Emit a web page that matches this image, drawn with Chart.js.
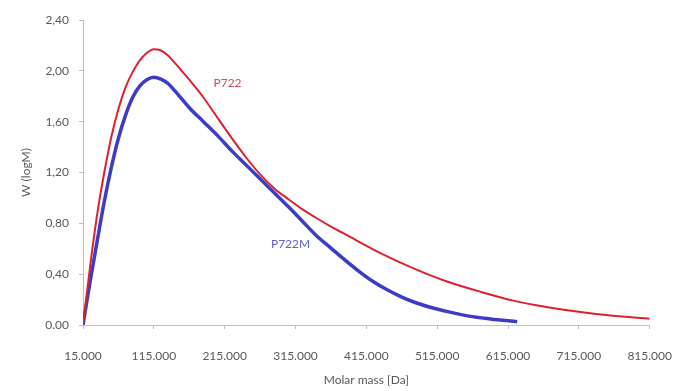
<!DOCTYPE html>
<html>
<head>
<meta charset="utf-8">
<script src="https://cdn.jsdelivr.net/npm/chart.js@4/dist/chart.umd.min.js"></script>
<style>
  html, body { margin: 0; padding: 0; background: #fff; }
  #wrap { width: 692px; height: 391px; }
</style>
</head>
<body>
<div id="wrap"><canvas id="chart"></canvas></div>
<script>
// molar mass (Da) and W (logM)
const p722Mass = [15000, 25000, 35000, 45000, 55000, 65000, 75000, 85000, 95000, 105000, 115000,
  125000, 135000, 145000, 155000, 165000, 185000, 205000, 225000, 245000, 265000, 285000, 305000,
  325000, 345000, 365000, 390000, 437000, 484000, 530000, 577000, 624000, 671000, 720000, 760000, 815000];
const p722W = [0.00, 0.46, 0.87, 1.20, 1.48, 1.70, 1.87, 1.99, 2.08, 2.14, 2.17,
  2.16, 2.12, 2.06, 1.995, 1.93, 1.79, 1.63, 1.47, 1.32, 1.185, 1.075, 0.99,
  0.91, 0.84, 0.775, 0.70, 0.56, 0.44, 0.34, 0.26, 0.19, 0.14, 0.10, 0.075, 0.05];

const p722mMass = [15000, 25000, 35000, 45000, 55000, 65000, 75000, 85000, 95000, 105000, 115000,
  125000, 135000, 145000, 155000, 165000, 185000, 205000, 225000, 245000, 265000, 285000, 305000,
  325000, 345000, 365000, 385000, 405000, 425000, 445000, 465000, 485000, 505000, 530000, 560000, 590000, 628000];
const p722mW = [0.00, 0.34, 0.66, 0.97, 1.24, 1.47, 1.65, 1.79, 1.88, 1.93, 1.95,
  1.935, 1.90, 1.84, 1.775, 1.71, 1.60, 1.49, 1.37, 1.26, 1.15, 1.04, 0.93,
  0.815, 0.70, 0.605, 0.51, 0.42, 0.34, 0.275, 0.22, 0.175, 0.14, 0.105, 0.07, 0.048, 0.026];

const xTicks = [15000, 115000, 215000, 315000, 415000, 515000, 615000, 715000, 815000];
const xTickLabels = ['15.000', '115.000', '215.000', '315.000', '415.000', '515.000', '615.000', '715.000', '815.000'];
const yTicks = [0, 0.4, 0.8, 1.2, 1.6, 2.0, 2.4];
const yTickLabels = ['0.00', '0,40', '0,80', '1,20', '1,60', '2,00', '2,40'];

// series name labels placed next to the curves
const seriesLabels = [
  { text: 'P722', x: 219000, y: 1.90, color: '#c8505a' },
  { text: 'P722M', x: 308000, y: 0.64, color: '#5a64c8' }
];

const toPoints = (xs, ys) => xs.map((x, i) => ({ x: x, y: ys[i] }));

const labelPlugin = {
  id: 'seriesLabels',
  afterDatasetsDraw(chart) {
    const ctx = chart.ctx;
    const xs = chart.scales.x, ys = chart.scales.y;
    ctx.save();
    ctx.font = '12px Lato';
    ctx.textAlign = 'center';
    ctx.textBaseline = 'middle';
    seriesLabels.forEach(l => {
      ctx.fillStyle = l.color;
      ctx.fillText(l.text, xs.getPixelForValue(l.x), ys.getPixelForValue(l.y));
    });
    ctx.restore();
  }
};

Chart.defaults.font.family = 'Lato';
Chart.defaults.color = '#595959';

new Chart(document.getElementById('chart'), {
  type: 'line',
  data: {
    datasets: [
      {
        label: 'P722',
        data: toPoints(p722Mass, p722W),
        borderColor: '#e0202e',
        borderWidth: 2,
        pointRadius: 0,
        cubicInterpolationMode: 'monotone'
      },
      {
        label: 'P722M',
        data: toPoints(p722mMass, p722mW),
        borderColor: '#3c3cc8',
        borderWidth: 3.5,
        pointRadius: 0,
        cubicInterpolationMode: 'monotone'
      }
    ]
  },
  options: {
    responsive: true,
    maintainAspectRatio: false,
    animation: false,
    layout: { padding: { left: 0, right: 39, top: 20, bottom: 0 } },
    plugins: {
      legend: { display: false },
      tooltip: { enabled: false }
    },
    scales: {
      x: {
        type: 'linear',
        min: 15000,
        max: 815000,
        afterBuildTicks: (scale) => { scale.ticks = xTicks.map(v => ({ value: v })); },
        afterFit: (scale) => { scale.height = 66; },
        ticks: {
          maxRotation: 0,
          autoSkip: false,
          padding: 20,
          font: { size: 12 },
          callback: (v, i) => xTickLabels[i]
        },
        grid: { drawOnChartArea: false, tickLength: 4, color: '#bfbfbf' },
        border: { color: '#bfbfbf' },
        title: { display: true, text: 'Molar mass [Da]', font: { size: 12 }, padding: { top: 6 } }
      },
      y: {
        min: 0,
        max: 2.4,
        afterBuildTicks: (scale) => { scale.ticks = yTicks.map(v => ({ value: v })); },
        afterFit: (scale) => { scale.width = 83; },
        ticks: {
          padding: 10,
          font: { size: 12 },
          callback: (v, i) => yTickLabels[i]
        },
        grid: { drawOnChartArea: false, tickLength: 4, color: '#bfbfbf' },
        border: { color: '#bfbfbf' },
        title: { display: true, text: 'W (logM)', font: { size: 12 }, padding: { top: 19, bottom: 0 } }
      }
    }
  },
  plugins: [labelPlugin]
});
</script>
</body>
</html>
